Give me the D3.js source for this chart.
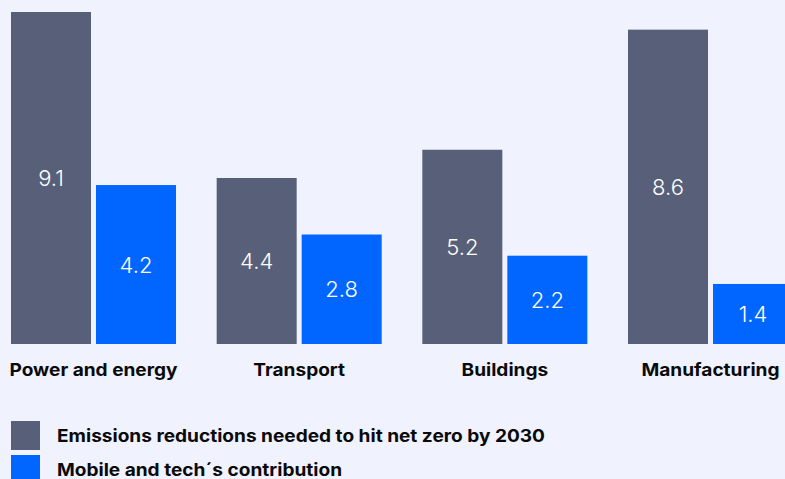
<!DOCTYPE html>
<html><head><meta charset="utf-8">
<script src="https://cdn.jsdelivr.net/npm/d3@7"></script>
<style>
html,body{margin:0;padding:0;background:#f0f3fe;}
svg{display:block;}
</style></head>
<body>
<svg id="chart" width="785" height="479"></svg>
<script>
const categories = ["Power and energy", "Transport", "Buildings", "Manufacturing"];
const seriesNames = ["Emissions reductions needed to hit net zero by 2030", "Mobile and tech´s contribution"];
const emissionsNeeded = [9.1, 4.4, 5.2, 8.6];
const mobileContribution = [4.2, 2.8, 2.2, 1.4];
const colors = ["#576078", "#0066ff"];

const seriesValues = [emissionsNeeded, mobileContribution];
const data = categories.map((c, i) => ({ cat: c, vals: seriesValues.map((s, j) => ({ key: seriesNames[j], v: s[i], j })) }));

const svg = d3.select("#chart");
svg.append("rect").attr("width", 785).attr("height", 479).attr("fill", "#f0f3fe");

const x0 = d3.scaleBand().domain(categories).range([11, 793]).paddingInner(0.1977).paddingOuter(0);
const x1 = d3.scaleBand().domain(seriesNames).range([0, x0.bandwidth()]).paddingInner(0.0588).paddingOuter(0);
const y = d3.scaleLinear().domain([-0.3, 9.1]).range([344, 12]);

const g = svg.selectAll("g.grp").data(data).join("g").attr("class", "grp")
  .attr("transform", d => `translate(${x0(d.cat)},0)`);

g.selectAll("rect").data(d => d.vals).join("rect")
  .attr("x", d => x1(d.key)).attr("width", x1.bandwidth())
  .attr("y", d => y(d.v)).attr("height", d => y(-0.3) - y(d.v))
  .attr("fill", d => colors[d.j]);

g.selectAll("text.val").data(d => d.vals).join("text").attr("class", "val")
  .attr("x", d => x1(d.key) + x1.bandwidth() / 2)
  .attr("y", d => (y(d.v) + y(-0.3)) / 2)
  .attr("text-anchor", "middle").attr("dominant-baseline", "central")
  .attr("fill", "#ffffff").attr("font-family", "Inter, 'Noto Sans', sans-serif")
  .attr("font-weight", 300).attr("font-size", 22)
  .text(d => d.v.toFixed(1));

const SX = 1.09;
// category axis labels
svg.selectAll("g.cat").data(categories).join("g").attr("class", "cat")
  .attr("transform", d => `translate(${x0(d) + x0.bandwidth() / 2},369) scale(${SX},1)`)
  .append("text")
  .attr("text-anchor", "middle").attr("dominant-baseline", "central")
  .attr("fill", "#0a0a0a").attr("font-family", "Inter, 'Noto Sans', sans-serif")
  .attr("font-weight", 700).attr("font-size", 17.5)
  .text(d => d);

// legend
const lg = svg.selectAll("g.leg").data(seriesNames).join("g").attr("class", "leg")
  .attr("transform", (d, i) => `translate(11,${421 + i * 34})`);
lg.append("rect").attr("width", 29).attr("height", 29).attr("fill", (d, i) => colors[i]);
lg.append("g").attr("transform", `translate(46,14.5) scale(${SX},1)`)
  .append("text").attr("dominant-baseline", "central")
  .attr("fill", "#0a0a0a").attr("font-family", "Inter, 'Noto Sans', sans-serif")
  .attr("font-weight", 700).attr("font-size", 17.5)
  .text(d => d);
</script>
</body></html>
